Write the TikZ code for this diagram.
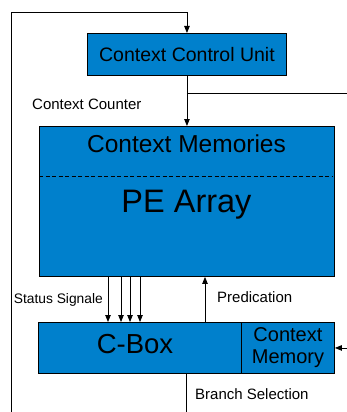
\documentclass[tikz,border=0pt]{standalone}
\usepackage{fontspec}
\setmainfont{Liberation Sans}
\usetikzlibrary{arrows.meta,calc}
\definecolor{boxblue}{RGB}{0,128,204}
\tikzset{
  blk/.style={draw=black, line width=0.9pt, fill=boxblue, rectangle, inner sep=0pt, anchor=north west},
  conn/.style={line width=0.8pt, draw=black},
  arr/.style={conn, -{Triangle[length=7pt,width=5.5pt]}},
  lbl/.style={inner sep=0pt, font=\fontsize{15}{18}\selectfont},
}
\begin{document}
\begin{tikzpicture}[x=1pt,y=-1pt]
\useasboundingbox (0,0) rectangle (347,412);
% boxes
\node[blk, minimum width=199pt, minimum height=42pt] (ccu) at (87,33) {};
\node[font=\fontsize{19.5}{22}\selectfont, inner sep=0pt] (ccut) at (ccu.center) {Context Control Unit};
\node[blk, minimum width=295pt, minimum height=150pt] (pe) at (39,126) {};
\node[font=\fontsize{24.5}{28}\selectfont, inner sep=0pt] (cmt) at (186.5,144) {Context Memories};
\node[font=\fontsize{32.5}{36}\selectfont, inner sep=0pt] (pet) at (186.5,205) {PE Array};
\coordinate (dl) at (39,176);
\coordinate (dr) at (333,176);
\draw[line width=0.8pt, dash pattern=on 4pt off 2.5pt] (dl) -- (dr);
\node[blk, minimum width=203pt, minimum height=51pt] (cbox) at (38,322) {};
\node[font=\fontsize{27.5}{30}\selectfont, inner sep=0pt] (cboxt) at (135,344) {C-Box};
\node[blk, minimum width=93pt, minimum height=51pt] (cmem) at (241,322) {};
\node[font=\fontsize{20}{22}\selectfont, inner sep=0pt, align=center] (cmemt) at (cmem.center) {Context\\Memory};
% feedback loop
\coordinate (fbbot) at (11,412);
\coordinate (fbtop) at (ccu.north |- 0,12);
\draw[arr] (fbbot) |- (fbtop) -- (ccu.north);
% context counter
\draw[arr] (ccu.south) -- (ccu.south |- pe.north);
\coordinate (cc) at (ccu.south |- 0,93);
\coordinate (ccr) at (348,93);
\draw[conn] (cc) -- (ccr);
\node[lbl, anchor=west] (cclbl) at (32,104) {Context Counter};
% status signals
\foreach \xx/\nm in {108/s1,121/s2,130/s3,140/s4}{
  \coordinate (\nm a) at (\xx,276);
  \draw[arr] (\nm a) -- (\nm a |- cbox.north);
}
\node[lbl, anchor=east, font=\fontsize{13.8}{16}\selectfont] (sslbl) at (103,300) {Status Signale};
% predication
\coordinate (pr) at (205,322);
\draw[arr] (pr) -- (pr |- pe.south);
\node[lbl, anchor=west] (prlbl) at (217,297) {Predication};
% input to context memory
\coordinate (cmin) at (348,0 |- cmem.east);
\draw[arr] (cmin) -- (cmem.east);
% branch selection
\coordinate (bs) at (186.5,373);
\coordinate (bse) at (186.5,413);
\draw[conn] (bs) -- (bse);
\node[lbl, anchor=west] (bslbl) at (195,394) {Branch Selection};
\end{tikzpicture}
\end{document}
